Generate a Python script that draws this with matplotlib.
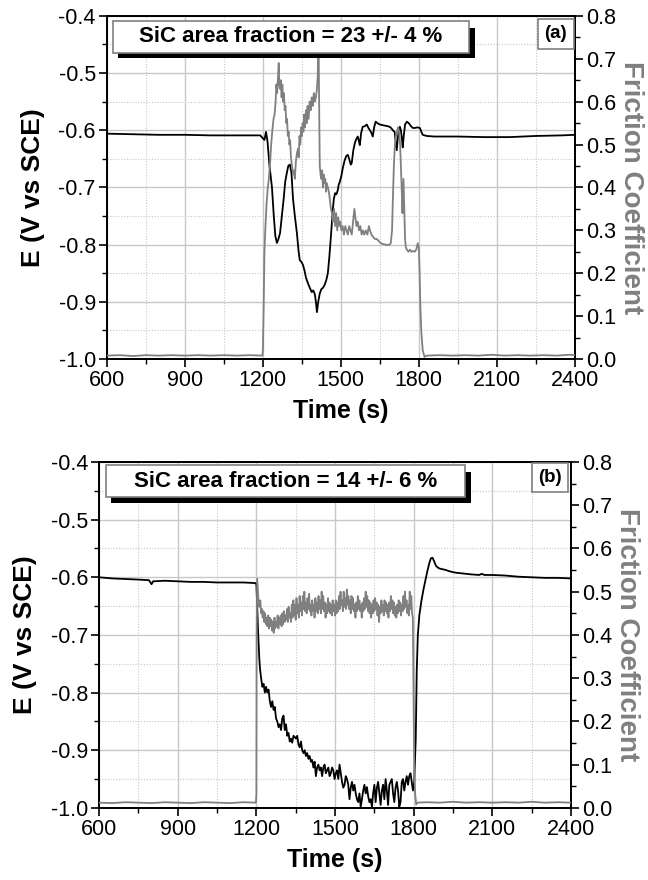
"""Open-circuit potential and friction coefficient versus time for two SiC fractions."""

import matplotlib

matplotlib.use("Agg")

import matplotlib.pyplot as plt
import numpy as np
from matplotlib.patches import Rectangle
from matplotlib.ticker import MultipleLocator

plt.rcParams["font.family"] = ["Liberation Sans", "DejaVu Sans"]

GRAY = "#808080"

# ---------------------------------------------------------------- panel (a)
A_LABEL = "SiC area fraction = 23 +/- 4 %"

# (time s, E V vs SCE)
A_POTENTIAL = [
    (600, -0.606), (700, -0.607), (800, -0.608), (900, -0.608), (1000, -0.609),
    (1100, -0.609), (1190, -0.609), (1200, -0.614), (1206, -0.617), (1212, -0.603),
    (1218, -0.620), (1225, -0.660), (1235, -0.700), (1242, -0.750), (1248, -0.785),
    (1254, -0.797), (1260, -0.790), (1266, -0.780), (1273, -0.750), (1280, -0.720),
    (1286, -0.690), (1292, -0.675), (1298, -0.662), (1304, -0.660), (1310, -0.675),
    (1316, -0.720), (1323, -0.750), (1331, -0.780), (1337, -0.810), (1342, -0.827),
    (1348, -0.830), (1354, -0.835), (1360, -0.845), (1366, -0.858), (1373, -0.867),
    (1380, -0.875), (1388, -0.883), (1394, -0.880), (1400, -0.887), (1404, -0.900),
    (1408, -0.918), (1413, -0.900), (1419, -0.885), (1425, -0.878), (1432, -0.875),
    (1438, -0.870), (1444, -0.862), (1450, -0.850), (1456, -0.820), (1461, -0.790),
    (1465, -0.765), (1469, -0.740), (1473, -0.720), (1478, -0.710), (1483, -0.712),
    (1488, -0.705), (1492, -0.695), (1496, -0.690), (1502, -0.680), (1508, -0.665),
    (1515, -0.652), (1521, -0.645), (1527, -0.643), (1532, -0.650), (1538, -0.660),
    (1542, -0.657), (1548, -0.635), (1554, -0.622), (1560, -0.615), (1565, -0.611),
    (1569, -0.618), (1573, -0.626), (1578, -0.605), (1584, -0.594), (1592, -0.593),
    (1600, -0.590), (1606, -0.596), (1612, -0.600), (1618, -0.605), (1623, -0.611),
    (1628, -0.595), (1634, -0.585), (1642, -0.588), (1650, -0.590), (1660, -0.591),
    (1670, -0.592), (1680, -0.593), (1688, -0.594), (1695, -0.597), (1700, -0.600),
    (1707, -0.603), (1711, -0.620), (1715, -0.635), (1719, -0.615), (1723, -0.598),
    (1727, -0.594), (1731, -0.600), (1735, -0.615), (1738, -0.630), (1742, -0.610),
    (1747, -0.590), (1754, -0.585), (1762, -0.588), (1770, -0.593), (1777, -0.596),
    (1785, -0.596), (1795, -0.595), (1804, -0.596), (1810, -0.603), (1815, -0.608),
    (1830, -0.610), (1860, -0.611), (1950, -0.611), (2050, -0.612), (2150, -0.612),
    (2250, -0.610), (2350, -0.609), (2400, -0.608),
]

# (time s, friction coefficient)
A_FRICTION = [
    (600, 0.008), (650, 0.009), (700, 0.007), (750, 0.009), (800, 0.008),
    (850, 0.009), (900, 0.008), (950, 0.009), (1000, 0.008), (1050, 0.009),
    (1100, 0.008), (1150, 0.009), (1198, 0.008), (1200, 0.020), (1203, 0.120),
    (1206, 0.250), (1210, 0.310), (1214, 0.360), (1219, 0.400), (1223, 0.420),
    (1228, 0.460), (1232, 0.500), (1236, 0.530), (1241, 0.560), (1245, 0.570),
    (1249, 0.600), (1252, 0.640), (1255, 0.620), (1258, 0.655), (1261, 0.690),
    (1263, 0.640), (1266, 0.630), (1269, 0.650), (1272, 0.610), (1275, 0.640),
    (1278, 0.600), (1281, 0.620), (1284, 0.580), (1287, 0.590), (1290, 0.550),
    (1293, 0.560), (1296, 0.520), (1299, 0.530), (1302, 0.500), (1305, 0.510),
    (1308, 0.470), (1312, 0.450), (1316, 0.430), (1320, 0.440), (1323, 0.420),
    (1327, 0.460), (1331, 0.480), (1335, 0.490), (1338, 0.470), (1341, 0.520),
    (1344, 0.500), (1347, 0.540), (1350, 0.520), (1353, 0.550), (1356, 0.530),
    (1359, 0.570), (1362, 0.540), (1366, 0.580), (1369, 0.550), (1372, 0.590),
    (1376, 0.560), (1380, 0.600), (1384, 0.580), (1388, 0.610), (1392, 0.590),
    (1396, 0.620), (1400, 0.600), (1404, 0.610), (1408, 0.630), (1411, 0.660),
    (1413, 0.720), (1415, 0.700), (1417, 0.560), (1419, 0.450), (1422, 0.430),
    (1425, 0.420), (1428, 0.440), (1431, 0.400), (1434, 0.430), (1437, 0.410),
    (1440, 0.420), (1443, 0.390), (1446, 0.410), (1450, 0.400), (1454, 0.390),
    (1458, 0.370), (1462, 0.350), (1466, 0.340), (1470, 0.320), (1474, 0.350),
    (1478, 0.310), (1482, 0.340), (1486, 0.300), (1490, 0.330), (1494, 0.310),
    (1498, 0.320), (1502, 0.300), (1507, 0.310), (1512, 0.290), (1517, 0.310),
    (1522, 0.300), (1527, 0.290), (1532, 0.310), (1537, 0.300), (1542, 0.290),
    (1547, 0.320), (1552, 0.350), (1556, 0.330), (1560, 0.310), (1565, 0.320),
    (1570, 0.300), (1575, 0.310), (1580, 0.290), (1585, 0.300), (1590, 0.290),
    (1596, 0.300), (1602, 0.290), (1608, 0.310), (1612, 0.300), (1618, 0.290),
    (1624, 0.285), (1630, 0.280), (1638, 0.280), (1646, 0.275), (1654, 0.270),
    (1662, 0.268), (1670, 0.267), (1678, 0.266), (1686, 0.266), (1692, 0.270),
    (1697, 0.300), (1700, 0.370), (1704, 0.450), (1708, 0.500), (1712, 0.520),
    (1716, 0.530), (1720, 0.540), (1724, 0.530), (1728, 0.500), (1731, 0.450),
    (1734, 0.400), (1737, 0.340), (1739, 0.380), (1741, 0.420), (1744, 0.350),
    (1747, 0.280), (1750, 0.260), (1754, 0.255), (1760, 0.250), (1766, 0.255),
    (1772, 0.250), (1778, 0.252), (1784, 0.250), (1790, 0.255), (1796, 0.270),
    (1800, 0.260), (1803, 0.200), (1806, 0.120), (1810, 0.060), (1815, 0.020),
    (1822, 0.005), (1830, 0.008), (1880, 0.009), (1930, 0.008), (1980, 0.009),
    (2030, 0.008), (2080, 0.010), (2130, 0.008), (2180, 0.009), (2230, 0.008),
    (2280, 0.009), (2330, 0.008), (2380, 0.010), (2400, 0.009),
]

# ---------------------------------------------------------------- panel (b)
B_LABEL = "SiC area fraction = 14 +/- 6 %"

B_POTENTIAL_BEFORE = [
    (600, -0.600), (650, -0.602), (700, -0.603), (750, -0.604), (790, -0.605),
    (800, -0.612), (806, -0.607), (850, -0.606), (900, -0.607), (950, -0.608),
    (1000, -0.608), (1050, -0.609), (1100, -0.609), (1150, -0.609), (1195, -0.610),
    (1200, -0.612), (1203, -0.650), (1207, -0.700), (1211, -0.740), (1214, -0.760),
]
# rubbing period, sampled every 4.75 s from 1218 s
B_POTENTIAL_RUB_START = 1218
B_POTENTIAL_RUB_STEP = 4.75
B_POTENTIAL_RUB = [
    -0.775, -0.790, -0.785, -0.800, -0.790, -0.800, -0.795, -0.815, -0.825, -0.815,
    -0.830, -0.825, -0.845, -0.850, -0.860, -0.855, -0.865, -0.845, -0.840, -0.865,
    -0.855, -0.875, -0.870, -0.885, -0.880, -0.887, -0.875, -0.877, -0.880, -0.875,
    -0.890, -0.895, -0.885, -0.900, -0.905, -0.900, -0.910, -0.905, -0.915, -0.910,
    -0.920, -0.917, -0.930, -0.920, -0.945, -0.930, -0.925, -0.935, -0.930, -0.945,
    -0.930, -0.925, -0.940, -0.935, -0.930, -0.945, -0.940, -0.930, -0.935, -0.950,
    -0.940, -0.935, -0.950, -0.925, -0.940, -0.955, -0.965, -0.960, -0.945, -0.950,
    -0.960, -0.985, -0.965, -0.955, -0.970, -0.960, -0.975, -0.985, -0.990, -0.975,
    -0.998, -0.985, -0.970, -0.960, -0.975, -0.964, -0.980, -0.990, -0.985, -0.998,
    -0.975, -0.960, -0.990, -0.965, -0.955, -0.975, -0.995, -0.970, -0.960, -0.985,
    -0.950, -0.970, -0.995, -0.960, -0.955, -0.950, -0.975, -0.990, -0.965, -0.955,
    -0.970, -0.998, -0.990, -0.955, -0.950, -0.970, -0.955, -0.945, -0.960, -0.945,
    -0.940, -0.955, -0.970, -0.955,
]
B_POTENTIAL_AFTER = [
    (1808, -0.880), (1812, -0.760), (1816, -0.700), (1822, -0.665), (1830, -0.640),
    (1838, -0.620), (1845, -0.605), (1852, -0.590), (1860, -0.575), (1866, -0.567),
    (1872, -0.566), (1878, -0.572), (1885, -0.580), (1892, -0.583), (1900, -0.585),
    (1920, -0.587), (1940, -0.590), (1960, -0.592), (1980, -0.593), (2000, -0.594),
    (2020, -0.595), (2050, -0.596), (2060, -0.594), (2070, -0.596), (2100, -0.596),
    (2150, -0.597), (2200, -0.599), (2250, -0.600), (2300, -0.601), (2350, -0.601),
    (2400, -0.602),
]

B_FRICTION_BEFORE = [
    (600, 0.012), (650, 0.011), (700, 0.013), (750, 0.012), (800, 0.011),
    (850, 0.013), (900, 0.012), (950, 0.011), (1000, 0.013), (1050, 0.012),
    (1100, 0.011), (1150, 0.013), (1198, 0.012), (1200, 0.030), (1201, 0.400),
]
# rubbing period, sampled every 3 s from 1203 s
B_FRICTION_RUB_START = 1203
B_FRICTION_RUB_STEP = 3
B_FRICTION_RUB = [
    0.530, 0.500, 0.470, 0.465, 0.480, 0.450, 0.460, 0.440, 0.455, 0.430,
    0.450, 0.425, 0.440, 0.420, 0.445, 0.415, 0.440, 0.420, 0.435, 0.410,
    0.430, 0.405, 0.440, 0.415, 0.430, 0.420, 0.445, 0.415, 0.440, 0.425,
    0.445, 0.420, 0.450, 0.425, 0.455, 0.430, 0.445, 0.435, 0.460, 0.430,
    0.465, 0.440, 0.450, 0.430, 0.470, 0.440, 0.480, 0.445, 0.470, 0.435,
    0.485, 0.450, 0.470, 0.440, 0.490, 0.455, 0.475, 0.445, 0.490, 0.460,
    0.500, 0.455, 0.475, 0.450, 0.485, 0.460, 0.495, 0.455, 0.470, 0.445,
    0.480, 0.455, 0.470, 0.440, 0.485, 0.455, 0.475, 0.450, 0.490, 0.460,
    0.480, 0.450, 0.500, 0.460, 0.490, 0.455, 0.475, 0.440, 0.470, 0.450,
    0.485, 0.455, 0.475, 0.450, 0.470, 0.445, 0.480, 0.455, 0.470, 0.445,
    0.480, 0.450, 0.475, 0.455, 0.490, 0.460, 0.500, 0.470, 0.480, 0.455,
    0.500, 0.465, 0.485, 0.460, 0.505, 0.470, 0.490, 0.460, 0.480, 0.450,
    0.490, 0.460, 0.485, 0.455, 0.470, 0.440, 0.475, 0.455, 0.490, 0.460,
    0.480, 0.455, 0.470, 0.440, 0.475, 0.455, 0.485, 0.460, 0.500, 0.465,
    0.490, 0.455, 0.480, 0.450, 0.475, 0.440, 0.470, 0.450, 0.480, 0.455,
    0.485, 0.460, 0.475, 0.445, 0.470, 0.430, 0.465, 0.450, 0.480, 0.455,
    0.470, 0.445, 0.480, 0.455, 0.475, 0.450, 0.470, 0.440, 0.475, 0.455,
    0.490, 0.460, 0.480, 0.450, 0.475, 0.445, 0.465, 0.440, 0.470, 0.450,
    0.480, 0.455, 0.475, 0.445, 0.470, 0.455, 0.490, 0.460, 0.500, 0.465,
    0.480, 0.450, 0.470, 0.445, 0.500, 0.460, 0.490, 0.450, 0.440,
]
B_FRICTION_AFTER = [
    (1799, 0.300), (1802, 0.100), (1806, 0.030), (1810, 0.008), (1815, 0.012),
    (1850, 0.013), (1900, 0.012), (1950, 0.014), (2000, 0.012), (2050, 0.013),
    (2100, 0.012), (2150, 0.013), (2200, 0.012), (2250, 0.014), (2300, 0.012),
    (2350, 0.013), (2400, 0.012),
]

TIME_TICKS = [600, 900, 1200, 1500, 1800, 2100, 2400]


def pairs(points):
    t, v = zip(*points)
    return np.array(t, float), np.array(v, float)


def sampled(start, step, values):
    return start + step * np.arange(len(values)), np.array(values, float)


def join(*parts):
    return (np.concatenate([p[0] for p in parts]),
            np.concatenate([p[1] for p in parts]))


def boxed_label(ax, text, box, shadow, tag, tag_box):
    """White label box with a black drop shadow, plus the small panel tag."""
    x0, y0, x1, y1 = shadow
    ax.add_patch(Rectangle((x0, y0), x1 - x0, y1 - y0, transform=ax.transAxes,
                           facecolor="black", edgecolor="none", zorder=5, clip_on=False))
    x0, y0, x1, y1 = box
    ax.add_patch(Rectangle((x0, y0), x1 - x0, y1 - y0, transform=ax.transAxes,
                           facecolor="white", edgecolor=GRAY, lw=1.2, zorder=6, clip_on=False))
    ax.text((x0 + x1) / 2, (y0 + y1) / 2, text, transform=ax.transAxes,
            ha="center", va="center", fontsize=16, fontweight="bold", zorder=7)
    x0, y0, x1, y1 = tag_box
    ax.add_patch(Rectangle((x0, y0), x1 - x0, y1 - y0, transform=ax.transAxes,
                           facecolor="white", edgecolor=GRAY, lw=1.2, zorder=6, clip_on=False))
    ax.text((x0 + x1) / 2, (y0 + y1) / 2, tag, transform=ax.transAxes,
            ha="center", va="center", fontsize=13.5, fontweight="bold", zorder=7)


def draw_panel(fig, rect, potential, friction, label, box, shadow, tag, tag_box):
    ax = fig.add_axes(rect)
    ax2 = ax.twinx()

    ax.plot(*potential, color="black", lw=1.3, zorder=3)
    ax2.plot(*friction, color=GRAY, lw=1.3, zorder=3)

    ax.set_xlim(600, 2400)
    ax.set_ylim(-1.0, -0.4)
    ax2.set_ylim(0.0, 0.8)
    ax.set_xticks(TIME_TICKS)
    ax.xaxis.set_minor_locator(MultipleLocator(150))
    ax.yaxis.set_major_locator(MultipleLocator(0.1))
    ax.yaxis.set_minor_locator(MultipleLocator(0.05))
    ax2.yaxis.set_major_locator(MultipleLocator(0.1))
    ax2.yaxis.set_minor_locator(MultipleLocator(0.05))
    ax.yaxis.set_major_formatter(lambda v, _: f"{v:.1f}".replace("\u2212", "-"))
    ax2.yaxis.set_major_formatter(lambda v, _: f"{v:.1f}")

    ax.grid(True, which="major", color="#c8c8c8", lw=1.0)
    ax.grid(True, which="minor", color="#c8c8c8", lw=0.8, ls=(0, (1, 1.5)))
    ax.set_axisbelow(True)

    for a in (ax, ax2):
        a.tick_params(which="major", direction="out", length=6, width=1.2,
                      labelsize=15.5, pad=2)
        a.tick_params(which="minor", direction="out", length=3.5, width=1.0)
        for sp in a.spines.values():
            sp.set_linewidth(1.3)

    ax.set_ylabel("E (V vs SCE)", fontsize=19, fontweight="bold", labelpad=10)
    ax.set_xlabel("Time (s)", fontsize=18, fontweight="bold", labelpad=6)
    ax2.set_ylabel("Friction Coefficient", fontsize=20, fontweight="bold",
                   color=GRAY, rotation=270, labelpad=20)

    boxed_label(ax2, label, box, shadow, tag, tag_box)
    return ax, ax2


fig = plt.figure(figsize=(6.48, 8.8), dpi=100)

draw_panel(
    fig, [0.165, 0.592, 0.722, 0.390],
    pairs(A_POTENTIAL), pairs(A_FRICTION), A_LABEL,
    box=(0.013, 0.892, 0.773, 0.985), shadow=(0.024, 0.878, 0.786, 0.965),
    tag="(a)", tag_box=(0.921, 0.904, 0.998, 0.991),
)

draw_panel(
    fig, [0.153, 0.082, 0.728, 0.393],
    join(pairs(B_POTENTIAL_BEFORE),
         sampled(B_POTENTIAL_RUB_START, B_POTENTIAL_RUB_STEP, B_POTENTIAL_RUB),
         pairs(B_POTENTIAL_AFTER)),
    join(pairs(B_FRICTION_BEFORE),
         sampled(B_FRICTION_RUB_START, B_FRICTION_RUB_STEP, B_FRICTION_RUB),
         pairs(B_FRICTION_AFTER)),
    B_LABEL,
    box=(0.015, 0.899, 0.775, 0.991), shadow=(0.025, 0.882, 0.788, 0.971),
    tag="(b)", tag_box=(0.917, 0.913, 0.993, 0.997),
)

fig.savefig("out.png", dpi=100)
